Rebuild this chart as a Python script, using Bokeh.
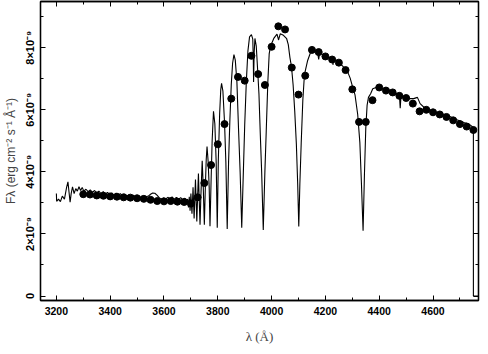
from bokeh.plotting import figure
from bokeh.models import FixedTicker, LinearAxis, Range1d
from bokeh.embed import file_html
from bokeh.resources import INLINE

# Spectrum (wavelength in Angstrom, flux in units of 1e-9 erg cm^-2 s^-1 A^-1)
spec_wave = [3200, 3201, 3208, 3215, 3222, 3230, 3238, 3243, 3247, 3251, 3255, 3260, 3266, 3272,
             3278, 3284, 3290, 3296, 3302, 3310, 3318, 3326, 3334, 3342, 3350, 3358, 3366, 3374,
             3382, 3390, 3398, 3406, 3414, 3422, 3430, 3438, 3446, 3454, 3462, 3470, 3478, 3486,
             3494, 3502, 3510, 3518, 3526, 3534, 3542, 3550, 3558, 3566, 3574, 3582, 3590, 3598,
             3606, 3614, 3622, 3630, 3638, 3646, 3654, 3662, 3670, 3678, 3684, 3688, 3691, 3694,
             3697, 3700, 3704, 3708, 3712, 3717, 3720, 3722, 3725, 3728, 3731, 3734, 3737, 3742,
             3746, 3750, 3754, 3757, 3760, 3764, 3768, 3771, 3775, 3779, 3784, 3789, 3794, 3798,
             3802, 3807, 3811, 3814, 3819, 3825, 3830, 3835, 3840, 3845, 3850, 3855, 3860, 3865,
             3871, 3877, 3883, 3889, 3895, 3900, 3906, 3912, 3918, 3925, 3930, 3932, 3933, 3935,
             3938, 3943, 3948, 3953, 3958, 3963, 3969, 3975, 3980, 3986, 3991, 3996, 4008, 4020,
             4026, 4032, 4044, 4056, 4062, 4068, 4074, 4080, 4086, 4092, 4097, 4101, 4105, 4110,
             4116, 4122, 4134, 4146, 4159, 4171, 4175, 4179, 4195, 4213, 4226, 4228, 4231, 4243,
             4255, 4267, 4280, 4292, 4300, 4310, 4320, 4328, 4334, 4340, 4345, 4350, 4355, 4360,
             4368, 4376, 4388, 4400, 4412, 4431, 4455, 4475, 4478, 4481, 4491, 4509, 4528, 4542,
             4552, 4570, 4594, 4618, 4643, 4667, 4691, 4715, 4734, 4750, 4750, 4800]
spec_flux = [3.30, 3.05, 3.12, 3.04, 3.22, 3.12, 3.50, 3.68, 3.35, 3.02, 3.30, 3.52, 3.30, 3.46,
             3.38, 3.52, 3.40, 3.50, 3.38, 3.44, 3.36, 3.42, 3.34, 3.40, 3.32, 3.38, 3.30, 3.36,
             3.28, 3.34, 3.27, 3.32, 3.25, 3.31, 3.24, 3.30, 3.22, 3.28, 3.21, 3.26, 3.19, 3.25,
             3.18, 3.23, 3.16, 3.22, 3.15, 3.20, 3.22, 3.28, 3.32, 3.31, 3.25, 3.17, 3.12, 3.16,
             3.12, 3.18, 3.13, 3.19, 3.12, 3.18, 3.11, 3.17, 3.10, 3.15, 3.08, 3.12, 2.85, 3.20,
             2.75, 3.30, 2.65, 3.50, 2.50, 3.75, 2.95, 2.40, 3.20, 3.95, 3.10, 2.30, 3.20, 4.36,
             3.50, 2.30, 3.60, 4.40, 4.82, 4.35, 3.50, 2.25, 3.70, 5.00, 5.95, 5.55, 4.30, 2.20,
             4.40, 5.90, 6.65, 6.85, 6.60, 5.60, 4.30, 2.16, 4.30, 5.70, 6.80, 7.50, 7.78, 7.60,
             6.90, 5.40, 4.00, 2.20, 4.00, 5.50, 6.90, 7.90, 8.35, 8.42, 8.28, 7.60, 6.90, 7.80,
             8.30, 8.05, 7.30, 6.50, 5.20, 4.00, 2.13, 4.00, 5.30, 6.90, 7.80, 8.05, 8.30, 8.44,
             8.25, 8.45, 8.40, 8.29, 8.10, 7.69, 7.38, 6.80, 5.95, 4.90, 3.60, 2.24, 3.60, 4.92,
             6.30, 7.13, 7.59, 7.88, 7.92, 7.85, 7.62, 7.86, 7.74, 7.69, 7.63, 7.45, 7.62, 7.59,
             7.49, 7.38, 7.28, 7.02, 6.77, 6.48, 5.85, 4.95, 3.60, 2.10, 3.90, 5.40, 6.15, 6.40,
             6.52, 6.68, 6.72, 6.77, 6.68, 6.66, 6.56, 6.48, 6.05, 6.45, 6.41, 6.36, 6.36, 6.40,
             6.20, 6.05, 5.98, 5.90, 5.85, 5.77, 5.67, 5.59, 5.54, 5.43, 0.00, 0.00]

# Photometric points
phot_wave = [3300, 3325, 3350, 3375, 3400, 3425, 3450, 3475, 3500, 3525, 3550, 3575, 3600, 3625,
             3650, 3675, 3700, 3725, 3750, 3775, 3800, 3825, 3850, 3875, 3900, 3925, 3950, 3975,
             4000, 4025, 4050, 4075, 4100, 4125, 4150, 4175, 4200, 4225, 4250, 4275, 4300, 4325,
             4350, 4375, 4400, 4425, 4450, 4475, 4500, 4525, 4550, 4575, 4600, 4625, 4650, 4675,
             4700, 4725, 4750]
phot_flux = [3.28, 3.27, 3.24, 3.23, 3.21, 3.20, 3.18, 3.17, 3.15, 3.13, 3.10, 3.06, 3.05, 3.06,
             3.04, 3.03, 2.98, 3.18, 3.64, 4.22, 4.89, 5.54, 6.36, 7.06, 6.94, 7.74, 7.15, 6.80,
             8.03, 8.69, 8.59, 7.36, 6.49, 7.10, 7.93, 7.86, 7.72, 7.62, 7.52, 7.28, 6.66, 5.61,
             5.61, 6.31, 6.72, 6.62, 6.56, 6.45, 6.38, 6.20, 5.95, 6.00, 5.92, 5.85, 5.77, 5.66,
             5.54, 5.46, 5.35]

x_ticks = [3200, 3400, 3600, 3800, 4000, 4200, 4400, 4600]
x_tick_labels = ["3200", "3400", "3600", "3800", "4000", "4200", "4400", "4600"]
x_minor = [3100, 3200, 3300, 3400, 3500, 3600, 3700, 3800, 3900, 4000, 4100, 4200, 4300, 4400,
           4500, 4600, 4700]
y_ticks = [0, 2, 4, 6, 8]
y_tick_labels = ["0", "2\u00d710\u207b\u2079", "4\u00d710\u207b\u2079", "6\u00d710\u207b\u2079",
                 "8\u00d710\u207b\u2079"]
y_minor = [0, 1, 2, 3, 4, 5, 6, 7, 8, 9]

p = figure(width=480, height=346, output_backend="svg", toolbar_location=None,
           x_range=Range1d(3141, 4769), y_range=Range1d(-0.145, 9.49),
           min_border_left=32, min_border_right=2, min_border_top=1, min_border_bottom=44)
p.xgrid.visible = False
p.ygrid.visible = False
p.outline_line_color = "black"
p.outline_line_width = 1.3
p.background_fill_color = "white"
p.border_fill_color = "white"

xt = FixedTicker(ticks=x_ticks, minor_ticks=x_minor)
yt = FixedTicker(ticks=y_ticks, minor_ticks=y_minor)


def style_axis(ax, show_labels):
    ax.axis_line_width = 1.3
    ax.axis_line_color = "black"
    ax.major_tick_in = 5
    ax.major_tick_out = 0
    ax.minor_tick_in = 3
    ax.minor_tick_out = 0
    ax.major_tick_line_color = "black"
    ax.minor_tick_line_color = "black"
    ax.major_tick_line_width = 1
    ax.minor_tick_line_width = 1
    if not show_labels:
        ax.major_label_text_color = None
        ax.major_label_text_font_size = "1px"
        ax.major_label_standoff = 0


p.xaxis.ticker = xt
p.yaxis.ticker = yt
p.xaxis.major_label_overrides = dict(zip(x_ticks, x_tick_labels))
p.yaxis.major_label_overrides = dict(zip(y_ticks, y_tick_labels))
style_axis(p.xaxis[0], True)
style_axis(p.yaxis[0], True)
for ax in (p.xaxis[0], p.yaxis[0]):
    ax.major_label_text_font = "Liberation Sans"
    ax.major_label_text_font_style = "bold"
    ax.major_label_text_color = "black"
p.xaxis.major_label_text_font_size = "10.5px"
p.yaxis.major_label_text_font_size = "11px"
p.xaxis.major_label_standoff = 6
p.yaxis.major_label_standoff = 4
p.yaxis.major_label_orientation = "vertical"

p.xaxis.axis_label = "\u03bb (\u00c5)"
p.xaxis.axis_label_text_font = "Liberation Serif"
p.xaxis.axis_label_text_font_style = "normal"
p.xaxis.axis_label_text_font_size = "13px"
p.xaxis.axis_label_standoff = 11
p.yaxis.axis_label = "F\u03bb (erg cm\u207b\u00b2 s\u207b\u00b9 \u00c5\u207b\u00b9)"
p.yaxis.axis_label_text_font = "Liberation Sans"
p.yaxis.axis_label_text_font_style = "normal"
p.yaxis.axis_label_text_font_size = "12px"
p.yaxis.axis_label_standoff = 4

top = LinearAxis(ticker=xt)
style_axis(top, False)
p.add_layout(top, "above")
right = LinearAxis(ticker=yt)
style_axis(right, False)
p.add_layout(right, "right")

p.line(spec_wave, spec_flux, line_color="black", line_width=1.1)
p.scatter(phot_wave, phot_flux, size=7, color="black", marker="circle")

open("out.html", "w").write(file_html(p, INLINE))
